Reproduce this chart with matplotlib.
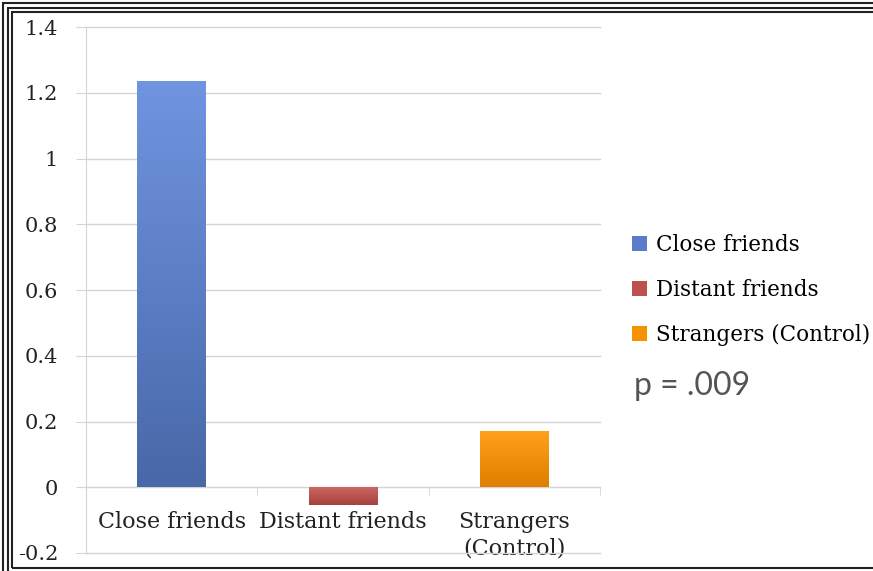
import matplotlib.pyplot as plt
from matplotlib.patches import Rectangle
from matplotlib.colors import to_rgb
import numpy as np

categories = ["Close friends", "Distant friends", "Strangers\n(Control)"]
legend_names = ["Close friends", "Distant friends", "Strangers (Control)"]
values = [1.235, -0.055, 0.17]
yticks = [-0.2, 0, 0.2, 0.4, 0.6, 0.8, 1, 1.2, 1.4]
ytick_labels = ["-0.2", "0", "0.2", "0.4", "0.6", "0.8", "1", "1.2", "1.4"]
p_text = "p = .009"

# top colour, bottom colour for each bar
grads = [("#7094e0", "#4868a8"), ("#cf6764", "#a8423f"), ("#ffa01a", "#e07e00")]
solid = ["#5a7ccb", "#c0504d", "#f59200"]

serif = "DejaVu Serif"
grid_c = "#d4d4d4"
txt_c = "#222222"

fig = plt.figure(figsize=(8.73, 5.71), dpi=100)
ax = fig.add_axes([86 / 873, 1 - 553 / 571, 514 / 873, 526 / 571])
ax.spines["bottom"].set_position(("data", 0))

x = np.arange(len(values))
bars = ax.bar(x, values, width=0.4, color=solid, zorder=3)

# vertical gradient inside each bar
for b, (top, bot) in zip(bars, grads):
    x0, w = b.get_x(), b.get_width()
    y0, h = b.get_y(), b.get_height()
    c1, c2 = np.array(to_rgb(top)), np.array(to_rgb(bot))
    t = np.linspace(0, 1, 64)[:, None]
    img = (c1 * (1 - t) + c2 * t)[:, None, :]
    lo, hi = min(y0, y0 + h), max(y0, y0 + h)
    im = ax.imshow(img, extent=[x0, x0 + w, lo, hi], aspect="auto", zorder=4,
                   origin="upper")
    im.set_clip_path(b)

ax.set_xlim(-0.5, 2.5)
ax.set_ylim(-0.2, 1.4)
ax.set_yticks(yticks)
ax.set_yticklabels(ytick_labels, fontsize=15, family=serif, color=txt_c)
ax.yaxis.grid(True, color=grid_c, lw=1, zorder=0)
for gl in ax.get_ygridlines():
    gl.set_clip_on(False)
ax.tick_params(axis="y", length=7, color=grid_c, pad=13)

ax.set_xticks(x)
ax.set_xticklabels(categories, fontsize=16, family=serif, color=txt_c,
                   linespacing=1.3)
ax.tick_params(axis="x", length=0, pad=17)
ax.set_xticks([0.5, 1.5, 2.5], minor=True)
ax.tick_params(axis="x", which="minor", length=6, color=grid_c, direction="out")

for s in ["top", "right"]:
    ax.spines[s].set_visible(False)
ax.spines["bottom"].set_color(grid_c)
ax.spines["left"].set_color(grid_c)

ax.legend(bars, legend_names, loc="center left",
          bbox_to_anchor=(632 / 873, 1 - 290 / 571), bbox_transform=fig.transFigure,
          frameon=False, prop={"family": serif, "size": 15.5},
          handlelength=0.7, handleheight=0.7, handletextpad=0.4, labelspacing=1.08,
          borderaxespad=0, borderpad=0)

fig.text(634 / 873, 1 - 386 / 571, p_text, fontsize=23, family="Lato",
         color="#555555", va="center", ha="left")

# nested frame lines (picture is cropped on the right and bottom)
for inset, bottom in [(3, -20), (7.5, -20), (12, 3)]:
    fig.patches.append(Rectangle((inset / 873, bottom / 571), 1.2,
                                 1 - (inset + bottom) / 571,
                                 transform=fig.transFigure, fill=False,
                                 edgecolor="#222222", lw=1.5, zorder=10))

fig.savefig("out.png", dpi=100)
